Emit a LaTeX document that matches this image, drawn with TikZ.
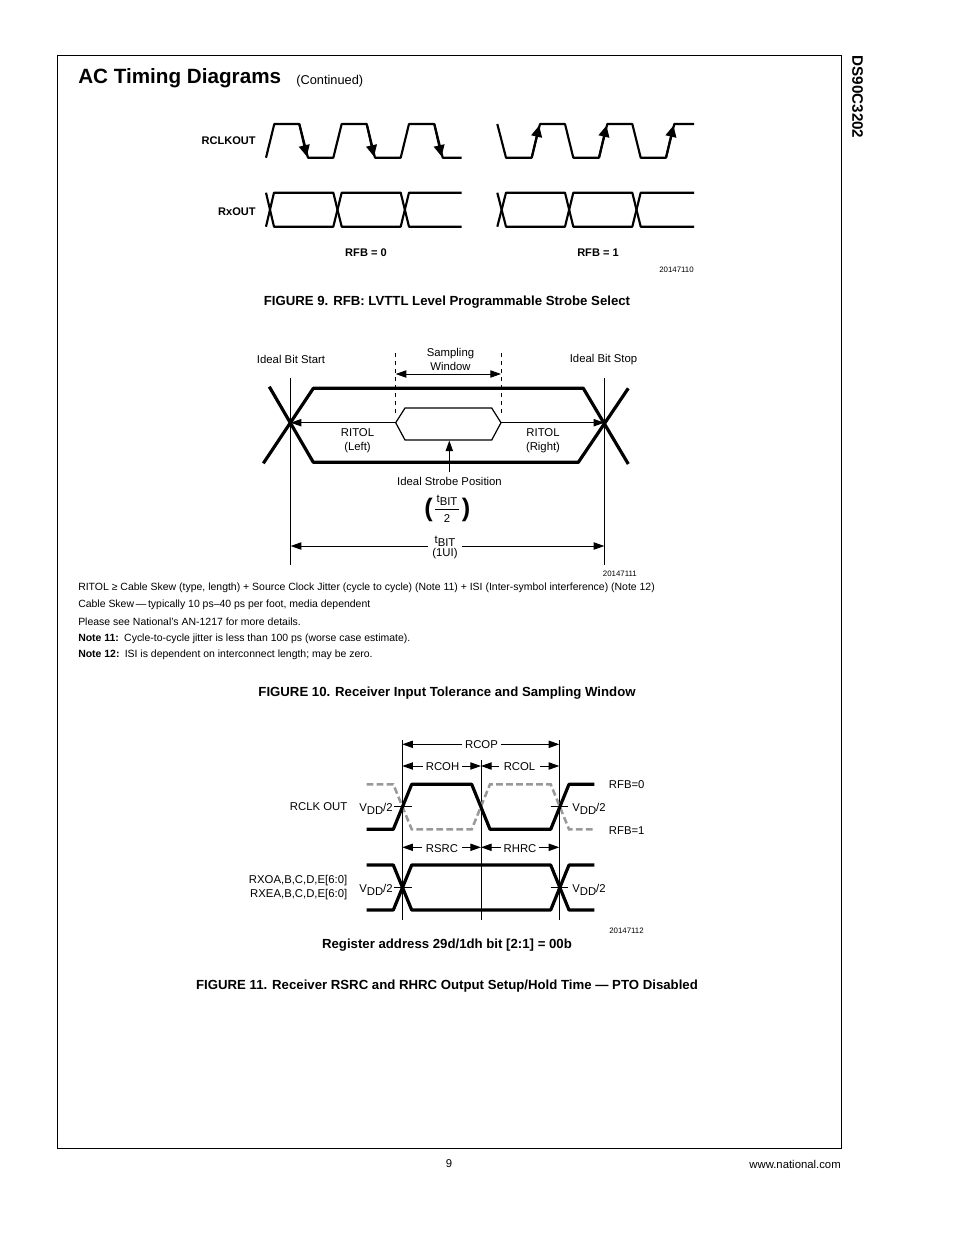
\documentclass[tikz,border=0pt]{standalone}
\usepackage{fontspec}
\setmainfont{Liberation Sans}
\usetikzlibrary{arrows.meta, positioning}
\newcommand{\tbit}{t\raisebox{-0.5ex}{BIT}}
\newcommand{\vdd}{V\raisebox{-0.5ex}{DD}/2}
\tikzstyle{plain} = [inner sep=0, yshift=-0.8pt, align=center, font=\fontsize{8.5}{10.2}\selectfont]
\tikzstyle{boldlabel} = [inner sep=0, yshift=-0.8pt, align=center, font=\fontsize{8.3}{10}\selectfont\bfseries]
\tikzstyle{caption} = [inner sep=0, yshift=-1pt, font=\fontsize{9.9}{11}\selectfont\bfseries]
\tikzstyle{notes} = [inner sep=0, yshift=-1pt, anchor=west, font=\fontsize{7.85}{9}\selectfont]
\tikzstyle{figcode} = [inner sep=0, anchor=east, font=\fontsize{5.9}{7}\selectfont]
\tikzstyle{wave} = [draw=black, line width=1.6pt, line join=round]
\tikzstyle{thickwave} = [draw=black, line width=2.4pt, line join=round]
\tikzstyle{ghost} = [draw=black!40, line width=1.9pt, dash pattern=on 5pt off 2.5pt]
\tikzstyle{guide} = [draw=black, line width=0.6pt]
\tikzstyle{dim} = [draw=black, line width=0.7pt, -{Triangle[length=8pt, width=5.5pt]}]
\tikzstyle{dimboth} = [draw=black, line width=0.7pt, {Triangle[length=8pt, width=5.5pt]}-{Triangle[length=8pt, width=5.5pt]}]
\tikzstyle{strobe} = [draw=black, line width=1.6pt, -{Triangle[length=8.5pt, width=8pt]}]

\begin{document}
\begin{tikzpicture}[x=0.75pt, y=-0.75pt]
	\path[use as bounding box, fill=white] (0, 0) rectangle (954, 1235);
	\draw[line width=0.6pt] (57, 55) rectangle (841, 1148);

	\node (Title) [inner sep=0, anchor=west, font=\fontsize{15.5}{18}\selectfont\bfseries] at (78, 78) {AC Timing Diagrams};
	\node (Continued) [inner sep=0, anchor=west, font=\fontsize{9.6}{11}\selectfont] at (296, 81) {(Continued)};
	\node (Part) [inner sep=0, rotate=-90, font=\fontsize{11.4}{13}\selectfont\bfseries] at (857.5, 97) {DS90C3202};
	\node (Page) [plain] at (449, 1163) {9};
	\node (Web) [plain, anchor=east] at (841, 1163) {www.national.com};

	% figure 9
	\node (Rclkout) [boldlabel, anchor=east] at (256, 140) {RCLKOUT};
	\node (Rxout) [boldlabel, anchor=east] at (256, 210.5) {RxOUT};
	\node (RfbZero) [boldlabel] at (366, 252) {RFB = 0};
	\node (RfbOne) [boldlabel] at (598, 252) {RFB = 1};
	\node (CodeA) [figcode] at (694, 269.5) {20147110};
	\node (CapA) [caption] at (447, 301) {FIGURE 9. RFB: LVTTL Level Programmable Strobe Select};

	\draw[wave] (266, 157.7) -- (274.3, 124) -- (299.3, 124) -- (308, 157.7) -- (333.3, 157.7)
		-- (341.7, 124) -- (366.7, 124) -- (375, 157.7) -- (400.7, 157.7)
		-- (409, 124) -- (434.3, 124) -- (442.7, 157.7) -- (461.7, 157.7);
	\draw[strobe] (299.3, 124) -- (306.8, 156.5);
	\draw[strobe] (366.7, 124) -- (374, 156.5);
	\draw[strobe] (434.3, 124) -- (441.6, 156.5);

	\draw[wave] (266, 226.7) -- (274, 192.7) -- (333.3, 192.7) -- (341.7, 226.7) -- (400.7, 226.7)
		-- (409, 192.7) -- (461.7, 192.7);
	\draw[wave] (266, 192.7) -- (274, 226.7) -- (333.3, 226.7) -- (341.7, 192.7) -- (400.7, 192.7)
		-- (409, 226.7) -- (461.7, 226.7);

	\draw[wave] (497.3, 124) -- (506, 157.7) -- (531.7, 157.7) -- (540, 124) -- (565, 124)
		-- (573.3, 157.7) -- (599, 157.7) -- (607.3, 124) -- (632.3, 124)
		-- (640.7, 157.7) -- (666, 157.7) -- (674.3, 124) -- (694, 124);
	\draw[strobe] (531.7, 157.7) -- (539.2, 125.5);
	\draw[strobe] (599, 157.7) -- (606.5, 125.5);
	\draw[strobe] (666, 157.7) -- (673.5, 125.5);

	\draw[wave] (497.3, 226.7) -- (506, 192.7) -- (565, 192.7) -- (573.3, 226.7) -- (632.3, 226.7)
		-- (640.7, 192.7) -- (694, 192.7);
	\draw[wave] (497.3, 192.7) -- (506, 226.7) -- (565, 226.7) -- (573.3, 192.7) -- (632.3, 192.7)
		-- (640.7, 226.7) -- (694, 226.7);

	% figure 10
	\coordinate (StartTop) at (290.7, 377.7);
	\coordinate (StartBot) at (290.7, 565);
	\coordinate (StartMid) at (290.7, 422.7);
	\coordinate (StartDim) at (290.7, 546);
	\coordinate (StopTop) at (604.3, 377.7);
	\coordinate (StopBot) at (604.3, 565);
	\coordinate (StopMid) at (604.3, 422.7);
	\coordinate (StopDim) at (604.3, 546);
	\draw[guide] (StartTop) -- (StartBot);
	\draw[guide] (StopTop) -- (StopBot);

	\node (BitStart) [plain] at (291, 358.5) {Ideal Bit Start};
	\node (BitStop) [plain] at (603.5, 358.5) {Ideal Bit Stop};
	\node (Sampling) [plain] at (450.5, 358.5) {Sampling\\Window};
	\node (RitolLeft) [plain] at (357.5, 439.5) {RITOL\\(Left)};
	\node (RitolRight) [plain] at (543, 439.5) {RITOL\\(Right)};
	\node (IdealStrobe) [plain] at (449.5, 480.5) {Ideal Strobe Position};
	\node (HalfBit) [plain] at (447, 499.5) {\tbit};
	\node (HalfTwo) [plain] at (447, 517) {2};
	\node (ParenLeft) [inner sep=0, font=\fontsize{19}{20}\selectfont\bfseries] at (428.5, 509.5) {(};
	\node (ParenRight) [inner sep=0, font=\fontsize{19}{20}\selectfont\bfseries] at (466, 509.5) {)};
	\draw[line width=0.6pt] (435, 509) -- (459, 509);
	\node (FullBit) [plain, inner xsep=3pt] at (445, 546.5) {\tbit\\(1UI)};
	\node (CodeB) [figcode] at (637, 574) {20147111};

	\draw[thickwave] (269.3, 386.7) -- (313.3, 462.3) -- (578.3, 462.3) -- (628.3, 388.3) ;
	\draw[thickwave] (263.3, 463.3) -- (313.3, 388.3) -- (583.3, 388.3) -- (628.3, 464);

	\coordinate (WinTopL) at (395.7, 353);
	\coordinate (WinBotL) at (395.7, 413);
	\coordinate (WinTopR) at (501, 353);
	\coordinate (WinBotR) at (501, 413);
	\coordinate (WinArrowL) at (395.7, 374);
	\coordinate (WinArrowR) at (501, 374);
	\draw[guide, dashed] (WinTopL) -- (WinBotL);
	\draw[guide, dashed] (WinTopR) -- (WinBotR);
	\draw[dimboth] (WinArrowL) -- (WinArrowR);

	\coordinate (EyeL) at (395.7, 422.7);
	\coordinate (EyeR) at (501, 422.7);
	\coordinate (EyeBot) at (449.3, 440.5);
	\draw[line width=0.9pt] (EyeL) -- (405, 408) -- (491.7, 408) -- (EyeR) -- (491.7, 440) -- (405, 440) -- cycle;
	\draw[dim] (EyeL) -- (StartMid);
	\draw[dim] (EyeR) -- (StopMid);
	\draw[dim] (449.3, 472) -- (EyeBot);
	\draw[dim] (FullBit.west |- StartDim) -- (StartDim);
	\draw[dim] (FullBit.east |- StartDim) -- (StopDim);

	\node (NoteA) [notes] at (78, 586) {RITOL ≥ Cable Skew (type, length) + Source Clock Jitter (cycle to cycle) (Note 11) + ISI (Inter-symbol interference) (Note 12)};
	\node (NoteB) [notes] at (78, 603) {Cable Skew\,---\,typically 10 ps--40 ps per foot, media dependent};
	\node (NoteC) [notes] at (78, 620) {Please see National's AN-1217 for more details.};
	\node (NoteD) [notes] at (78, 637) {\textbf{Note 11:}\enspace Cycle-to-cycle jitter is less than 100 ps (worse case estimate).};
	\node (NoteE) [notes] at (78, 653) {\textbf{Note 12:}\enspace ISI is dependent on interconnect length; may be zero.};
	\node (CapB) [caption] at (447, 692) {FIGURE 10. Receiver Input Tolerance and Sampling Window};

	% figure 11
	\coordinate (EdgeATop) at (402.3, 740);
	\coordinate (EdgeABot) at (402.3, 920);
	\coordinate (EdgeBTop) at (481, 760);
	\coordinate (EdgeBBot) at (481, 920);
	\coordinate (EdgeCTop) at (559.3, 740);
	\coordinate (EdgeCBot) at (559.3, 920);
	\coordinate (RcopLevel) at (481, 744.3);
	\coordinate (RcoLevel) at (481, 766);
	\coordinate (SetupLevel) at (481, 847.3);
	\draw[guide] (EdgeATop) -- (EdgeABot);
	\draw[guide] (EdgeBTop) -- (EdgeBBot);
	\draw[guide] (EdgeCTop) -- (EdgeCBot);

	\node (Rcop) [plain, inner xsep=2pt] at (481.5, 744) {RCOP};
	\node (Rcoh) [plain, inner xsep=2pt] at (442.5, 766) {RCOH};
	\node (Rcol) [plain, inner xsep=3.3pt] at (519.5, 766) {RCOL};
	\node (Rsrc) [plain, inner xsep=2.6pt] at (442, 847.5) {RSRC};
	\node (Rhrc) [plain, inner xsep=1.6pt] at (520, 847.5) {RHRC};
	\draw[dim] (Rcop.west |- RcopLevel) -- (EdgeATop |- RcopLevel);
	\draw[dim] (Rcop.east |- RcopLevel) -- (EdgeCTop |- RcopLevel);
	\draw[dim] (Rcoh.west |- RcoLevel) -- (EdgeATop |- RcoLevel);
	\draw[dim] (Rcoh.east |- RcoLevel) -- (EdgeBTop |- RcoLevel);
	\draw[dim] (Rcol.west |- RcoLevel) -- (EdgeBTop |- RcoLevel);
	\draw[dim] (Rcol.east |- RcoLevel) -- (EdgeCTop |- RcoLevel);
	\draw[dim] (Rsrc.west |- SetupLevel) -- (EdgeATop |- SetupLevel);
	\draw[dim] (Rsrc.east |- SetupLevel) -- (EdgeBTop |- SetupLevel);
	\draw[dim] (Rhrc.west |- SetupLevel) -- (EdgeBTop |- SetupLevel);
	\draw[dim] (Rhrc.east |- SetupLevel) -- (EdgeCTop |- SetupLevel);

	\draw[ghost] (366.7, 784.3) -- (393.3, 784.3) -- (411.7, 829.3) -- (471.7, 829.3) -- (490, 784.3)
		-- (550.7, 784.3) -- (569, 829.3) -- (594.3, 829.3);
	\draw[thickwave] (366.7, 829.3) -- (393.3, 829.3) -- (411.7, 784.3) -- (471.7, 784.3) -- (490, 829.3)
		-- (550.7, 829.3) -- (569, 784.3) -- (594.3, 784.3);

	\draw[thickwave] (366.7, 865) -- (393.3, 865) -- (411.7, 910) -- (550.7, 910) -- (569, 865) -- (594.3, 865);
	\draw[thickwave] (366.7, 910) -- (393.3, 910) -- (411.7, 865) -- (550.7, 865) -- (569, 910) -- (594.3, 910);

	\draw[guide] (394, 806.7) -- (411.7, 806.7);
	\draw[guide] (550.7, 806.7) -- (568.3, 806.7);
	\draw[guide] (394, 887.3) -- (411.7, 887.3);
	\draw[guide] (550.7, 887.3) -- (568.3, 887.3);

	\node (RclkLabel) [plain, anchor=east] at (347.5, 806) {RCLK OUT};
	\node (RxLabel) [plain, anchor=east, align=right] at (347.5, 886.5) {RXOA,B,C,D,E[6:0]\\RXEA,B,C,D,E[6:0]};
	\node (VddA) [plain] at (376, 808) {\vdd};
	\node (VddB) [plain] at (589, 808) {\vdd};
	\node (VddC) [plain] at (376, 889) {\vdd};
	\node (VddD) [plain] at (589, 889) {\vdd};
	\node (RfbHigh) [plain] at (626.7, 784) {RFB=0};
	\node (RfbLow) [plain] at (626.7, 830) {RFB=1};
	\node (CodeC) [figcode] at (644, 930.5) {20147112};
	\node (Register) [caption] at (447, 943.5) {Register address 29d/1dh bit [2:1] = 00b};
	\node (CapC) [caption] at (447, 985) {FIGURE 11. Receiver RSRC and RHRC Output Setup/Hold Time --- PTO Disabled};
\end{tikzpicture}
\end{document}
